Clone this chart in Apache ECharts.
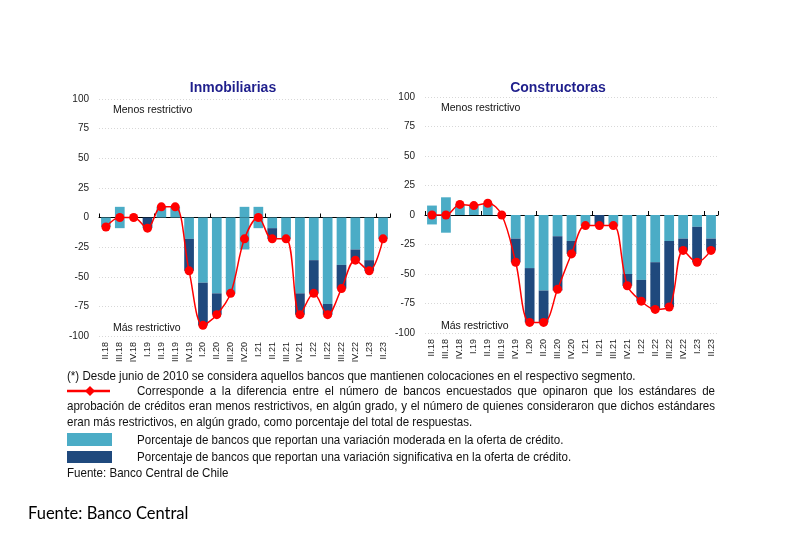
<!DOCTYPE html>
<html><head><meta charset="utf-8">
<script src="https://cdn.jsdelivr.net/npm/echarts@6/dist/echarts.min.js"></script>
<style>html,body{margin:0;padding:0;background:#fff}#c{width:787px;height:541px}</style>
</head><body><div id="c"></div>
<script>
// ---- Data ----
const categories = ['II.18','III.18','IV.18','I.19','II.19','III.19','IV.19','I.20','II.20','III.20','IV.20','I.21','II.21','III.21','IV.21','I.22','II.22','III.22','IV.22','I.23','II.23'];
const yTicks = [-100,-75,-50,-25,0,25,50,75,100];

// Inmobiliarias
const inmModeradaPos = [0,9,0,0,9,9,0,0,0,0,9,9,0,0,0,0,0,0,0,0,0];
const inmModeradaNeg = [-8,-9,0,0,0,0,-18,-55,-64,-64,-27,-9,-9,-18,-64,-36,-73,-40,-27,-36,-18];
const inmSignificativa = [0,0,0,-9,0,0,-27,-36,-18,0,0,0,-9,0,-18,-28,-9,-20,-9,-9,0];
const inmNeto = [-8,0,0,-9,9,9,-45,-91,-82,-64,-18,0,-18,-18,-82,-64,-82,-60,-36,-45,-18];

// Constructoras
const conModeradaPos = [8,15,9,8,10,0,0,0,0,0,0,0,0,0,0,0,0,0,0,0,0];
const conModeradaNeg = [-8,-15,0,0,0,0,-20,-45,-64,-18,-22,-9,0,-9,-50,-55,-40,-22,-20,-10,-20];
const conSignificativa = [0,0,0,0,0,0,-20,-46,-27,-46,-11,0,-9,0,-10,-18,-40,-56,-10,-30,-10];
const conNeto = [0,0,9,8,10,0,-40,-91,-91,-63,-33,-9,-9,-9,-60,-73,-80,-78,-30,-40,-30];

// ---- Styles ----
const LIGHT = '#4BACC6', DARK = '#1F497D', RED = '#FF0000';
const AXFONT = '"Liberation Sans", Arial, sans-serif';
const NOTEFONT = '"Liberation Sans", Arial, sans-serif';

const chart = echarts.init(document.getElementById('c'), null, {renderer:'canvas'});

function yAxis(gi){
  return {gridIndex:gi, type:'value', min:-100, max:100, interval:25,
    axisLine:{show:false}, axisTick:{show:false},
    axisLabel:{fontSize:10, color:'#222', fontFamily:AXFONT, margin:10},
    splitLine:{show:true, lineStyle:{color:'#d8d8d8', type:[1,2], width:1}}};
}
function xLabelAxis(gi){
  return {gridIndex:gi, type:'category', data:categories, position:'bottom',
    axisLine:{show:false, onZero:false}, axisTick:{show:false},
    axisLabel:{rotate:90, fontSize:9, color:'#222', fontFamily:AXFONT, margin:6, interval:0}};
}
function xZeroAxis(gi){
  return {gridIndex:gi, type:'category', data:categories, position:'top',
    axisLine:{show:true, onZero:true, lineStyle:{color:'#000', width:1}},
    axisTick:{show:true, interval:3, length:4, lineStyle:{color:'#000'}},
    axisLabel:{show:false}};
}
function barSeries(xi, yi, stack, data, color){
  return {type:'bar', xAxisIndex:xi, yAxisIndex:yi, stack:stack, data:data,
    barCategoryGap:'30%', itemStyle:{color:color}, silent:true, z:2};
}
function lineSeries(xi, yi, data){
  return {type:'line', xAxisIndex:xi, yAxisIndex:yi, data:data, smooth:0.35,
    symbol:'circle', symbolSize:9, showSymbol:true,
    lineStyle:{color:RED, width:1.5}, itemStyle:{color:RED}, z:5, silent:true};
}

// Footnote text: rendered in a horizontally compressed group to mimic a narrow font
const FS = 13, SX = 0.89, GX = 67;
const ux = x => GX + (x - GX) / SX; // convert screen x to unscaled group x
const mctx = document.createElement('canvas').getContext('2d');
function tx(t, x, y, size, family, extra){
  return {type:'text', style:Object.assign({text:t, x:x, y:y, fontSize:size, fontFamily:family, fill:'#111', verticalAlign:'middle'}, extra||{})};
}
function justify(text, x0, x1, y){
  mctx.font = FS + 'px ' + NOTEFONT;
  const words = text.split(' ');
  const ws = words.map(w => mctx.measureText(w).width);
  const total = ws.reduce((a,b)=>a+b,0);
  const a = ux(x0), b = ux(x1);
  const gap = (b - a - total) / (words.length - 1);
  const out = []; let x = a;
  words.forEach((w,i)=>{ out.push(tx(w, x, y, FS, NOTEFONT)); x += ws[i] + gap; });
  return out;
}

const noteTexts = [
  tx('(*) Desde junio de 2010 se considera aquellos bancos que mantienen colocaciones en el respectivo segmento.', ux(67), 376, FS, NOTEFONT),
  ...justify('Corresponde a la diferencia entre el número de bancos encuestados que opinaron que los estándares de', 137, 715, 391),
  ...justify('aprobación de créditos eran menos restrictivos, en algún grado, y el número de quienes consideraron que dichos estándares', 67, 715, 406),
  tx('eran más restrictivos, en algún grado, como porcentaje del total de respuestas.', ux(67), 422, FS, NOTEFONT),
  tx('Porcentaje de bancos que reportan una variación moderada en la oferta de crédito.', ux(137), 440, FS, NOTEFONT),
  tx('Porcentaje de bancos que reportan una variación significativa en la oferta de crédito.', ux(137), 457, FS, NOTEFONT),
  tx('Fuente: Banco Central de Chile', ux(67), 473, FS, NOTEFONT)
];

const graphics = [
  tx('Menos restrictivo', 113, 110, 10.5, AXFONT),
  tx('Más restrictivo', 113, 328, 10.5, AXFONT),
  tx('Menos restrictivo', 441, 108, 10.5, AXFONT),
  tx('Más restrictivo', 441, 326, 10.5, AXFONT),
  {type:'line', shape:{x1:67, y1:391, x2:110, y2:391}, style:{stroke:RED, lineWidth:2.5}},
  {type:'polygon', shape:{points:[[90,386],[95,391],[90,396],[85,391]]}, style:{fill:RED}},
  {type:'rect', shape:{x:67, y:433, width:45, height:13}, style:{fill:LIGHT}},
  {type:'rect', shape:{x:67, y:451, width:45, height:12}, style:{fill:DARK}},
  {type:'group', x:GX, y:0, originX:0, originY:0, scaleX:SX, children: noteTexts.map(e => { e.style.x -= GX; return e; })},
  tx('Fuente: Banco Central', 28, 514, 16.5, 'Lato, "Open Sans", sans-serif', {fill:'#000'})
];

chart.setOption({
  backgroundColor:'#fff',
  animation:false,
  title:[
    {text:'Inmobiliarias', left:228, top:76, textAlign:'center', textStyle:{fontSize:14, fontWeight:'bold', color:'#1F1F8C', fontFamily:AXFONT}},
    {text:'Constructoras', left:553, top:76, textAlign:'center', textStyle:{fontSize:14, fontWeight:'bold', color:'#1F1F8C', fontFamily:AXFONT}}
  ],
  grid:[
    {left:99, top:99, width:291, height:237, containLabel:false},
    {left:425, top:97, width:293, height:236, containLabel:false}
  ],
  xAxis:[xLabelAxis(0), xZeroAxis(0), xLabelAxis(1), xZeroAxis(1)],
  yAxis:[yAxis(0), yAxis(1)],
  series:[
    barSeries(0,0,'inm',inmModeradaPos,LIGHT),
    barSeries(0,0,'inm',inmModeradaNeg,LIGHT),
    barSeries(0,0,'inm',inmSignificativa,DARK),
    lineSeries(0,0,inmNeto),
    barSeries(2,1,'con',conModeradaPos,LIGHT),
    barSeries(2,1,'con',conModeradaNeg,LIGHT),
    barSeries(2,1,'con',conSignificativa,DARK),
    lineSeries(2,1,conNeto)
  ],
  graphic:graphics
});
</script></body></html>
